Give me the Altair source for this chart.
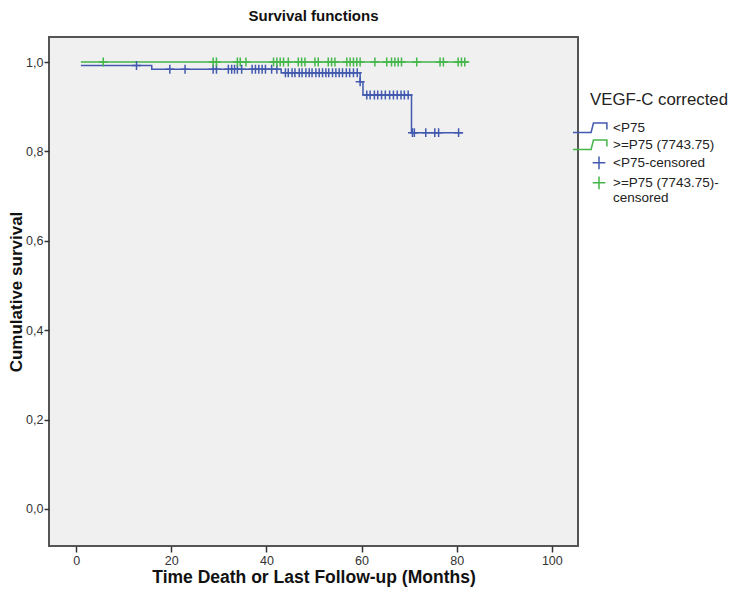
import altair as alt
import pandas as pd

# ---- data ----
grp_low = "<P75"
grp_high = ">=P75 (7743.75)"
cens_low = "<P75-censored"
cens_high = ">=P75 (7743.75)-censored"

# Kaplan-Meier step points (time in months, cumulative survival)
low_times = [1.0, 15.9, 43.1, 59.7, 60.3, 70.5, 81.3]
low_surv = [0.992, 0.984, 0.976, 0.956, 0.926, 0.842, 0.842]
high_times = [1.0, 82.4]
high_surv = [1.0, 1.0]

# censored observations (time in months)
low_censored = [12.7, 19.7, 22.9, 28.8, 29.5, 32.0, 32.7, 33.3, 33.9, 34.8,
                37.0, 37.7, 38.4, 39.1, 39.8, 41.1, 42.2,
                44.0, 44.6, 45.4, 46.0, 46.9, 47.5, 48.3, 49.0, 49.6, 50.4,
                51.1, 51.8, 52.5, 53.1, 53.9, 54.6, 55.3, 56.0, 56.8, 57.5, 58.3, 59.1,
                59.7,
                61.1, 61.8, 62.7, 63.4, 64.2, 65.0, 65.9, 66.7, 67.5, 68.3, 69.0, 69.8,
                70.7, 71.1, 73.5, 75.4, 76.2, 80.4]
high_censored = [5.7, 28.8, 29.5, 33.9, 34.5, 35.7, 41.5, 42.2, 42.9, 43.6,
                 44.6, 46.7, 47.4, 48.1, 50.2, 50.9, 53.0, 53.7, 54.4, 56.9,
                 57.6, 58.3, 59.0, 59.7, 62.8, 65.3, 66.3, 67.0, 67.7, 68.4,
                 71.6, 76.5, 77.2, 80.3, 81.0, 81.7]

x_ticks = [0, 20, 40, 60, 80, 100]
y_ticks = [0.0, 0.2, 0.4, 0.6, 0.8, 1.0]

blue = "#4159AE"
green = "#45B64A"


def level_at(times, surv, t):
    s = surv[0]
    for tt, ss in zip(times, surv):
        if tt <= t:
            s = ss
    return s


lines = pd.DataFrame(
    [{"t": t, "s": s, "g": grp_low} for t, s in zip(low_times, low_surv)]
    + [{"t": t, "s": s, "g": grp_high} for t, s in zip(high_times, high_surv)]
)
cens = pd.DataFrame(
    [{"t": t, "s": level_at(low_times, low_surv, t), "g": cens_low} for t in low_censored]
    + [{"t": t, "s": 1.0, "g": cens_high} for t in high_censored]
)

domain = [grp_low, grp_high, cens_low, cens_high]
colors = [blue, green, blue, green]
step_path = "M-3.3,0.6L-1.0,0.6L-0.7,-0.6L1.0,-0.6L1.0,0.2"
cross_path = "M0,-0.8L0,0.8M-0.8,0L0.8,0"
shapes = [step_path, step_path, cross_path, cross_path]

font = "Liberation Sans"

x_enc = alt.X("t:Q", scale=alt.Scale(domain=[-5.7, 105.5], nice=False, zero=False),
              axis=alt.Axis(values=x_ticks, title="Time Death or Last Follow-up (Months)",
                            grid=False, domain=False, tickSize=6, tickColor="#333",
                            tickWidth=1.5, labelPadding=2, labelFontSize=12.5,
                            labelColor="#333", titleFontSize=17.5, titleFont=font,
                            titleFontWeight="bold", titlePadding=2, titleColor="#111",
                            labelFont=font))
y_enc = alt.Y("s:Q", scale=alt.Scale(domain=[-0.083, 1.056], nice=False, zero=False),
              axis=alt.Axis(values=y_ticks, title="Cumulative survival",
                            labelExpr="replace(format(datum.value, '.1f'), '.', ',')",
                            grid=False, domain=False, tickSize=5, tickColor="#333",
                            tickWidth=1.5, labelPadding=1, labelFontSize=12.5,
                            labelColor="#333", titleFontSize=17, titleFont=font,
                            titleFontWeight="bold", titlePadding=0, titleColor="#111",
                            labelFont=font))

color_scale = alt.Scale(domain=domain, range=colors)
legend = alt.Legend(title="VEGF-C corrected", orient="none", legendX=541, legendY=55,
                    titleFontSize=16.8, titleFontWeight="normal", titleFont=font,
                    titleColor="#222", titleAnchor="start", titlePadding=10,
                    labelFontSize=13.5, labelFont=font, labelColor="#222",
                    symbolSize=250, symbolStrokeWidth=1.5, labelOffset=5,
                    rowPadding=0, labelLimit=200,
                    labelExpr="datum.label == '>=P75 (7743.75)-censored' ? ['>=P75 (7743.75)-', 'censored'] : datum.label")

line_layer = alt.Chart(lines).mark_line(interpolate="step-after", strokeWidth=1.5).encode(
    x=x_enc, y=y_enc,
    color=alt.Color("g:N", scale=color_scale, legend=legend),
    detail="g:N",
)
cens_layer = alt.Chart(cens).mark_point(filled=False, size=126, strokeWidth=1.5, opacity=1).encode(
    x="t:Q", y="s:Q",
    color=alt.Color("g:N", scale=color_scale, legend=legend),
    shape=alt.Shape("g:N", scale=alt.Scale(domain=domain, range=shapes), legend=legend),
)

chart = alt.layer(line_layer, cens_layer).properties(
    width=529, height=509,
    title=alt.Title("Survival functions", fontSize=15, font=font, fontWeight="bold",
                    color="#111", offset=13),
    autosize=alt.AutoSizeParams(type="none"),
    padding={"left": 41, "top": 29, "right": 150, "bottom": 44},
).configure(
    background="white",
    view=alt.ViewConfig(fill="#F0F0F0", stroke="#555", strokeWidth=2),
)

chart.save("out.html", embed_options={"renderer": "svg", "actions": False})
